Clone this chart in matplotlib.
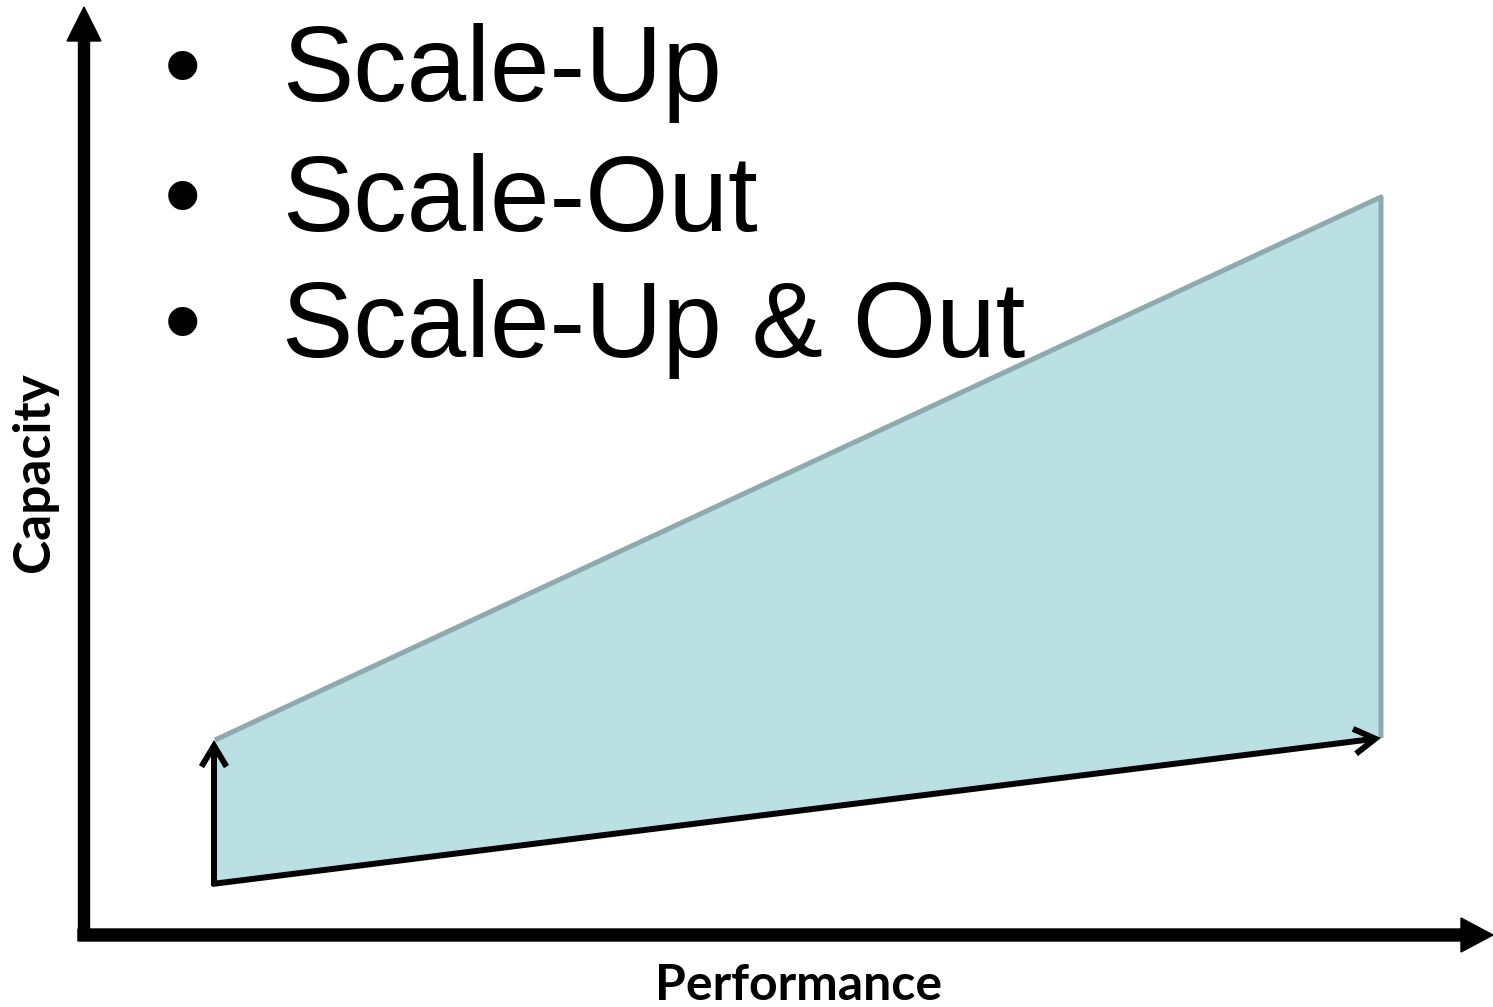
import matplotlib.pyplot as plt
from matplotlib.patches import Polygon

# diagram coordinates (pixel-like units, y grows downward)
region_x = [215, 1381, 1381, 215]
region_y = [740, 197, 738, 884]

bullets = ["Scale-Up", "Scale-Out", "Scale-Up & Out"]
bullet_baselines = [101, 231, 357]

fill_col = "#bae0e3"
edge_col = "#8eaaad"

fig = plt.figure(figsize=(14.93, 10.07), dpi=100)
ax = fig.add_axes([0, 0, 1, 1])
ax.set_xlim(0, 1493)
ax.set_ylim(1007, 0)
ax.axis("off")

# shaded region
ax.add_patch(Polygon(list(zip(region_x, region_y)), closed=True,
                     facecolor=fill_col, edgecolor="none", zorder=1))
ax.plot([region_x[0], region_x[1], region_x[2]],
        [region_y[0], region_y[1], region_y[2]],
        color=edge_col, lw=3.6, solid_capstyle="butt", zorder=2)

# black open arrows: scale-up (vertical) and scale-out (slanted)
arr = dict(arrowstyle="->,head_length=0.75,head_width=0.45", lw=4.3,
           color="black", shrinkA=0, shrinkB=0, mutation_scale=20,
           joinstyle="miter", capstyle="butt")
ax.annotate("", xy=(region_x[0] - 1, region_y[0]),
            xytext=(region_x[3] - 1, region_y[3] + 2), arrowprops=arr, zorder=3)
ax.annotate("", xy=(region_x[2], region_y[2]),
            xytext=(region_x[3] - 3, region_y[3]), arrowprops=arr, zorder=3)

# main axes
ax.arrow(84, 940, 0, 7 - 940, width=11, head_width=34, head_length=34,
         length_includes_head=True, color="black", zorder=4)
ax.arrow(78, 935, 1493 - 78, 0, width=12, head_width=34, head_length=32,
         length_includes_head=True, color="black", zorder=4)

# bullet list
for label, yb in zip(bullets, bullet_baselines):
    ax.text(182, yb, "\u2022", family="Liberation Sans", fontsize=77,
            ha="center", va="baseline", zorder=5)
    ax.text(282, yb, label, family="Liberation Sans", fontsize=77,
            ha="left", va="baseline", zorder=5)

ax.text(799, 1000, "Performance", family="Lato", fontweight="bold",
        fontsize=36, ha="center", va="baseline")
ax.text(35, 472, "Capacity", family="Lato", fontweight="bold",
        fontsize=37, ha="center", va="center", rotation=90)

fig.savefig("out.png", dpi=100)
